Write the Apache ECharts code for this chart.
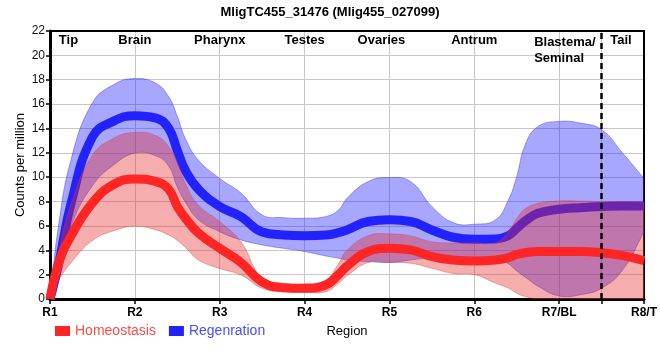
<!DOCTYPE html>
<html>
<head>
<meta charset="utf-8">
<script src="https://cdn.jsdelivr.net/npm/echarts@6/dist/echarts.min.js"></script>
<style>html,body{margin:0;padding:0;background:#fff}#c{width:660px;height:360px}</style>
</head>
<body>
<div id="c"></div>
<script>
// ---- data ----
const titleText = 'MligTC455_31476 (Mlig455_027099)';
const xTickLabels = ['R1', 'R2', 'R3', 'R4', 'R5', 'R6', 'R7/BL', 'R8/T'];
const regionNames = ['Tip', 'Brain', 'Pharynx', 'Testes', 'Ovaries', 'Antrum', 'Blastema/\nSeminal', 'Tail'];
const dividerAt = 7.5;

const regionPos = [1, 1.1, 1.25, 1.5, 1.75, 2, 2.25, 2.4, 2.5, 2.6, 2.75, 3, 3.25, 3.5, 3.75, 4, 4.25, 4.4, 4.5, 4.75, 5, 5.25, 5.5, 5.75, 6, 6.25, 6.4, 6.5, 6.6, 6.75, 7, 7.25, 7.5, 7.75, 8];

const regenMean  = [0, 2.8, 7.9, 13.3, 14.6, 15.05, 14.85, 14.0, 12.2, 10.5, 9.0, 7.6, 6.77, 5.5, 5.26, 5.2, 5.26, 5.45, 5.67, 6.36, 6.5, 6.36, 5.67, 5.07, 4.9, 4.93, 5.2, 5.8, 6.4, 7.04, 7.37, 7.5, 7.59, 7.64, 7.64];
const regenUpper = [0, 6.0, 11.5, 16.1, 17.6, 18.1, 17.7, 16.6, 15.0, 13.1, 11.4, 9.9, 8.7, 6.9, 6.68, 6.63, 6.77, 7.3, 8.27, 9.64, 9.97, 9.64, 7.6, 6.27, 6.14, 6.5, 8.1, 10.05, 12.66, 14.16, 14.58, 14.44, 13.9, 11.97, 9.9];
const regenLower = [0, 2.0, 6.0, 9.3, 11.0, 11.97, 11.75, 10.9, 9.2, 7.9, 6.5, 5.53, 4.85, 4.44, 4.16, 3.9, 3.53, 3.35, 3.2, 3.07, 3.0, 3.2, 3.4, 3.45, 3.4, 3.3, 2.9, 2.3, 1.8, 1.05, 0.25, 0.35, 0.88, 2.4, 5.5];

const homeoMean  = [0, 2.9, 5.2, 7.9, 9.4, 9.86, 9.64, 9.0, 7.6, 6.6, 5.4, 4.16, 3.0, 1.4, 0.93, 0.88, 1.15, 2.0, 2.7, 3.9, 4.16, 4.03, 3.48, 3.2, 3.12, 3.2, 3.4, 3.65, 3.8, 3.9, 3.9, 3.9, 3.8, 3.56, 3.15];
const homeoUpper = [0, 3.8, 7.8, 11.8, 13.2, 13.67, 13.4, 12.5, 11.2, 9.4, 7.7, 6.36, 4.7, 1.7, 1.3, 1.23, 1.56, 2.9, 4.0, 5.2, 5.34, 5.18, 4.7, 4.6, 4.6, 4.6, 5.5, 6.6, 7.4, 7.85, 8.05, 8.05, 8.0, 8.0, 7.95];
const homeoLower = [0, 1.5, 3.0, 4.8, 5.6, 5.97, 5.67, 5.25, 4.8, 4.2, 3.2, 2.5, 1.97, 0.88, 0.6, 0.55, 0.6, 1.3, 1.9, 3.0, 3.0, 2.93, 2.52, 2.1, 2.0, 1.3, 0.9, 0.47, 0.2, 0, 0, 0, 0, 0, 0];

// ---- build ----
const pairs = arr => regionPos.map((r, i) => [r, arr[i]]);
const triples = (lo, hi) => regionPos.map((r, i) => [r, lo[i], hi[i]]);
const SM = 0.45;
const FONT = '"Liberation Sans", Arial, sans-serif';

// smooth path through pixel points (same control-point scheme as ECharts' line smoothing)
function smoothSegs(pts, s) {
  const n = pts.length, f = [], b = [];
  for (let i = 0; i < n; i++) {
    const p = pts[i], pr = pts[Math.max(i - 1, 0)], nx = pts[Math.min(i + 1, n - 1)];
    const vx = nx[0] - pr[0], vy = nx[1] - pr[1];
    const d0 = Math.hypot(p[0] - pr[0], p[1] - pr[1]);
    const d1 = Math.hypot(nx[0] - p[0], nx[1] - p[1]);
    const t = (d0 + d1) || 1;
    f.push([p[0] + vx * s * d1 / t, p[1] + vy * s * d1 / t]);
    b.push([p[0] - vx * s * d0 / t, p[1] - vy * s * d0 / t]);
  }
  let d = '';
  for (let i = 0; i < n - 1; i++) {
    d += ' C' + f[i][0] + ',' + f[i][1] + ' ' + b[i + 1][0] + ',' + b[i + 1][1] + ' ' + pts[i + 1][0] + ',' + pts[i + 1][1];
  }
  return d;
}

function bandRenderer(fill, stroke) {
  return function (params, api) {
    if (params.dataIndex !== 0) return null;
    const n = params.dataInsideLength;
    const up = [], lo = [];
    for (let i = 0; i < n; i++) {
      const x = api.value(0, i);
      lo.push(api.coord([x, api.value(1, i)]));
      up.push(api.coord([x, api.value(2, i)]));
    }
    const loR = lo.slice().reverse();
    const d = 'M' + up[0][0] + ',' + up[0][1] + smoothSegs(up, SM) +
      ' L' + loR[0][0] + ',' + loR[0][1] + smoothSegs(loR, SM) + ' Z';
    return {type: 'path', shape: {pathData: d}, style: {fill: fill, stroke: stroke, lineWidth: 1}};
  };
}

const chart = echarts.init(document.getElementById('c'), null, {renderer: 'canvas'});
const tickVals = [1, 2, 3, 4, 5, 6, 7, dividerAt, 8];
const labelVals = [1, 2, 3, 4, 5, 6, 7, 8];

chart.setOption({
  animation: false,
  textStyle: {fontFamily: FONT},
  title: {
    text: titleText, left: 'center', top: 1,
    textStyle: {fontSize: 13, fontWeight: 'bold', color: '#000', fontFamily: FONT}
  },
  legend: {
    left: 50, top: 319, icon: 'rect', itemWidth: 15, itemHeight: 10, itemGap: 13,
    textStyle: {fontSize: 14, fontFamily: FONT},
    data: [
      {name: 'Homeostasis', textStyle: {color: '#ff4a4a'}},
      {name: 'Regenration', textStyle: {color: '#4b4bff'}}
    ]
  },
  grid: {left: 50, right: 8, top: 31, bottom: 61, containLabel: false},
  xAxis: [
    {
      type: 'value', min: 1, max: 8, interval: 1, position: 'bottom',
      name: 'Region', nameLocation: 'middle', nameGap: 26,
      nameTextStyle: {fontSize: 13, color: '#000', fontFamily: FONT},
      axisLine: {show: true, onZero: false, lineStyle: {color: '#000', width: 3}},
      axisTick: {show: true, length: 5, lineStyle: {color: '#000', width: 1.5}, customValues: tickVals},
      axisLabel: {
        fontSize: 12, fontWeight: 'bold', color: '#000', margin: 8, fontFamily: FONT,
        customValues: labelVals, showMinLabel: true, showMaxLabel: true,
        formatter: v => xTickLabels[Math.round(v) - 1] || ''
      },
      splitLine: {show: true, lineStyle: {color: '#c8c8c8', width: 1}}
    },
    {
      type: 'value', min: 1, max: 8, interval: 1, position: 'top',
      axisLine: {show: true, onZero: false, lineStyle: {color: '#000', width: 2}},
      axisTick: {show: false},
      splitLine: {show: false},
      axisLabel: {
        inside: true, margin: 3, color: '#000', fontSize: 13, fontWeight: 'bold', fontFamily: FONT,
        showMinLabel: true, showMaxLabel: true, verticalAlign: 'top',
        formatter: function (v) {
          const i = Math.round(v) - 1;
          const n = regionNames[i];
          if (i === 0) return '{tip|' + n + '}';
          if (i === 4) return '{ov|' + n + '}';
          if (i === 6) return n.split('\n').map(s => '{bs|' + s + '}').join('\n');
          if (i === 7) return '{tail|' + n + '}';
          return '{n|' + n + '}';
        },
        rich: {
          n: {fontSize: 13, fontWeight: 'bold', color: '#000', fontFamily: FONT},
          tip: {fontSize: 13, fontWeight: 'bold', color: '#000', fontFamily: FONT, padding: [0, 0, 0, 37]},
          ov: {fontSize: 13, fontWeight: 'bold', color: '#000', fontFamily: FONT, padding: [0, 16, 0, 0]},
          tail: {fontSize: 13, fontWeight: 'bold', color: '#000', fontFamily: FONT, padding: [0, 46, 0, 0]},
          bs: {fontSize: 13, fontWeight: 'bold', color: '#000', fontFamily: FONT, width: 66, align: 'left', lineHeight: 16, padding: [0, 0, 0, 16]}
        }
      }
    }
  ],
  yAxis: [
    {
      type: 'value', min: 0, max: 22, interval: 2,
      name: 'Counts per million', nameLocation: 'middle', nameGap: 23, nameRotate: 90,
      nameMoveOverlap: false,
      nameTextStyle: {fontSize: 13, color: '#000', fontFamily: FONT},
      axisLine: {show: true, lineStyle: {color: '#000', width: 3}},
      axisTick: {show: true, length: 4, lineStyle: {color: '#000', width: 1.5}},
      axisLabel: {fontSize: 12, color: '#111', margin: 5, fontFamily: FONT},
      splitLine: {show: true, lineStyle: {color: '#c8c8c8', width: 1}}
    },
    {
      type: 'value', min: 0, max: 22, interval: 2, position: 'right',
      axisLine: {show: true, lineStyle: {color: '#000', width: 2}},
      axisTick: {show: false}, axisLabel: {show: false}, splitLine: {show: false}
    }
  ],
  series: [
    {
      name: 'regenBand', type: 'custom', coordinateSystem: 'cartesian2d', clip: true,
      data: triples(regenLower, regenUpper), encode: {x: 0, y: [1, 2]},
      renderItem: bandRenderer('rgba(10,10,255,0.36)', 'rgba(60,60,235,0.45)'),
      silent: true, z: 1
    },
    {
      name: 'Regenration', type: 'line', data: pairs(regenMean),
      smooth: SM, symbol: 'none', z: 2,
      itemStyle: {color: '#2222ff'},
      lineStyle: {width: 9, color: '#2222ff', cap: 'butt'}
    },
    {
      name: 'homeoBand', type: 'custom', coordinateSystem: 'cartesian2d', clip: true,
      data: triples(homeoLower, homeoUpper), encode: {x: 0, y: [1, 2]},
      renderItem: bandRenderer('rgba(230,40,40,0.38)', 'rgba(225,60,60,0.4)'),
      silent: true, z: 3
    },
    {
      name: 'Homeostasis', type: 'line', data: pairs(homeoMean),
      smooth: SM, symbol: 'none', z: 4,
      itemStyle: {color: '#ff2525'},
      lineStyle: {width: 9, color: '#ff2525', cap: 'butt'},
      markLine: {
        silent: true, symbol: 'none', z: 10,
        label: {show: false},
        lineStyle: {color: '#000', width: 2.5, type: [6, 4]},
        data: [{xAxis: dividerAt}]
      }
    }
  ]
});
</script>
</body>
</html>
